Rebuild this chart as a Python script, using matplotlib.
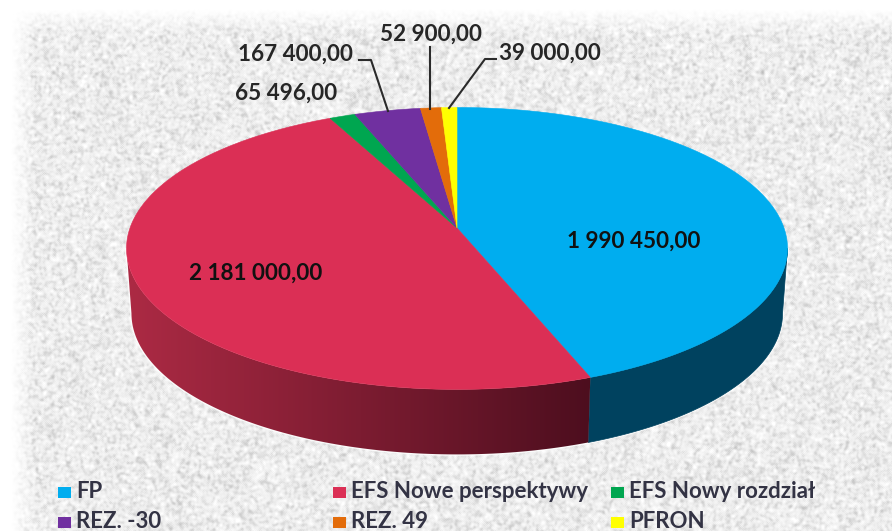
import numpy as np
import matplotlib
matplotlib.use('Agg')
import matplotlib.pyplot as plt
from matplotlib.patches import Polygon, Rectangle

names = ['FP', 'EFS Nowe perspektywy', 'EFS Nowy rozdział', 'REZ. -30', 'REZ. 49', 'PFRON']
values = [1990450.00, 2181000.00, 65496.00, 167400.00, 52900.00, 39000.00]
value_labels = ['1 990 450,00', '2 181 000,00', '65 496,00', '167 400,00', '52 900,00', '39 000,00']
top_colors = ['#00ADEF', '#DB2F55', '#00A650', '#7030A0', '#E36C0A', '#FFFF00']
side_colors = ['#00425F', '#8A1D35', '#006630', '#451E64', '#8E4406', '#A0A000']

W, H = 892, 531
plt.rcParams['font.family'] = ['Lato', 'DejaVu Sans']

fig = plt.figure(figsize=(W / 100, H / 100), dpi=100)
ax = fig.add_axes([0, 0, 1, 1])
ax.set_xlim(0, W)
ax.set_ylim(H, 0)
ax.axis('off')

# speckled paper background, hash noise smoothed with a few box passes
yy, xx = np.mgrid[0:H, 0:W]
noise = np.sin(xx * 12.9898 + yy * 78.233) * 43758.5453
noise = noise - np.floor(noise)
for i in range(3):
    noise = (noise + np.roll(noise, 1, 0) + np.roll(noise, -1, 0)
             + np.roll(noise, 1, 1) + np.roll(noise, -1, 1)) / 5
noise = (noise - noise.mean()) / noise.std()
bg = np.clip(237 + np.where(noise < 0, 11, 6) * noise, 185, 255)
fade = np.clip((xx - 10) / 25, 0, 1) * np.clip((yy - 8) / 25, 0, 1)
bg = 255 - (255 - bg) * fade
ax.imshow(bg, cmap='gray', vmin=0, vmax=255, extent=(0, W, H, 0), aspect='auto', zorder=0)

# pie drawn as a circle in perspective, apex is the projected centre
cx, cy = 457, 228
a, b, k = 327, 138, 0.145
depth = 65
shrink = 0.985


def project(theta, drop=0.0):
    u = np.sin(theta)
    v = -np.cos(theta)
    d = 1 - k * v
    s = shrink if drop else 1.0
    return cx + s * a * u / d, cy + b * v / d + drop


total = sum(values)
edges = np.concatenate([[0], np.cumsum(values)]) / total * 2 * np.pi

# the wall only shows between the rightmost and leftmost rim points
rim = np.linspace(0, 2 * np.pi, 2000)
rim_x = project(rim)[0]
front_start = rim[np.argmax(rim_x)]
front_end = rim[np.argmin(rim_x)]

walls = []
for i in range(len(values)):
    t0 = max(edges[i], front_start)
    t1 = min(edges[i + 1], front_end)
    if t1 <= t0:
        continue
    t = np.linspace(t0, t1, 200)
    x1, y1 = project(t)
    x2, y2 = project(t, drop=depth)
    walls.append((i, np.column_stack([np.r_[x1, x2[::-1]], np.r_[y1, y2[::-1]]])))

# thin white halo under the wall
for i, pts in walls:
    ax.add_patch(Polygon(pts, closed=True, fc='none', ec='white', lw=2, alpha=0.8, zorder=1))

for i, pts in walls:
    if names[i] == 'EFS Nowe perspektywy':
        grad = np.linspace(0, 1, 256).reshape(1, -1, 1)
        left = np.array([172, 42, 68]) / 255
        right = np.array([76, 14, 30]) / 255
        rgb = left + (right - left) * grad
        im = ax.imshow(rgb, extent=(127, 595, H, 0), aspect='auto', zorder=2)
        im.set_clip_path(Polygon(pts, closed=True, transform=ax.transData))
    else:
        ax.add_patch(Polygon(pts, closed=True, fc=side_colors[i], ec=side_colors[i], lw=0.5, zorder=2))

for i in range(len(values)):
    t = np.linspace(edges[i], edges[i + 1], 200)
    x1, y1 = project(t)
    pts = np.column_stack([np.r_[cx, x1], np.r_[cy, y1]])
    ax.add_patch(Polygon(pts, closed=True, fc=top_colors[i], ec=top_colors[i], lw=0.4, zorder=3))

# value labels
ax.text(634, 241, value_labels[0], fontsize=16.2, fontweight='bold', color='#111111', ha='center', va='center', zorder=5)
ax.text(256, 273, value_labels[1], fontsize=16.2, fontweight='bold', color='#111111', ha='center', va='center', zorder=5)
ax.text(286, 93, value_labels[2], fontsize=16.2, fontweight='bold', color='#262626', ha='center', va='center', zorder=5)
ax.text(296, 54, value_labels[3], fontsize=16.2, fontweight='bold', color='#262626', ha='center', va='center', zorder=5)
ax.text(431, 34, value_labels[4], fontsize=16.2, fontweight='bold', color='#262626', ha='center', va='center', zorder=5)
ax.text(550, 53, value_labels[5], fontsize=16.2, fontweight='bold', color='#262626', ha='center', va='center', zorder=5)

# leader lines
ax.plot([359, 371, 388], [60, 60, 111], color='#2b2b2b', lw=1.5, zorder=4)
ax.plot([430, 430], [47, 109], color='#2b2b2b', lw=1.5, zorder=4)
ax.plot([496, 485, 449], [59, 59, 108], color='#2b2b2b', lw=1.5, zorder=4)

# legend
legend_x = [58, 333, 611]
legend_y = [492, 522]
for i in range(len(names)):
    x = legend_x[i % 3]
    y = legend_y[i // 3]
    ax.add_patch(Rectangle((x, y - 5), 13, 11, fc=top_colors[i], ec='none', zorder=5))
    ax.text(x + 18, y, names[i], fontsize=16, fontweight='bold', color='#333344', ha='left', va='center', zorder=5)

fig.savefig('out.png', dpi=100)
